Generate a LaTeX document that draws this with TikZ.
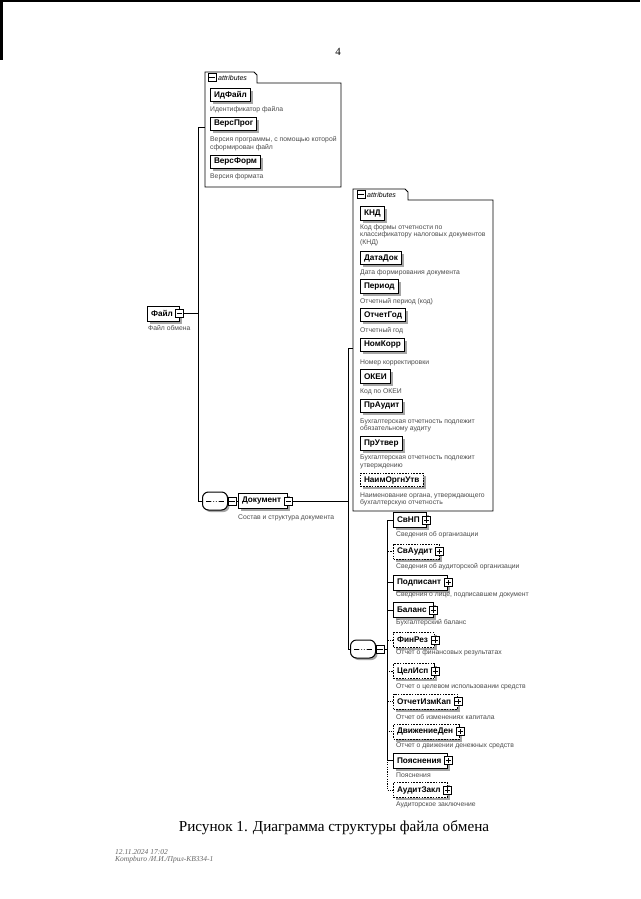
\documentclass[tikz,border=0pt]{standalone}
\usepackage{fontspec}
\setmainfont{Liberation Serif}
\newfontfamily\xsans{Liberation Sans}
\usetikzlibrary{shadows}
\begin{document}
\begin{tikzpicture}[x=1pt,y=-1pt,
  el/.style={draw, fill=white, font=\xsans\bfseries\fontsize{8.2}{9}\selectfont,
    inner xsep=3.5pt, inner ysep=0pt, minimum height=15pt, anchor=west, line width=1pt,
    drop shadow={shadow xshift=2.5pt, shadow yshift=-2.5pt, fill=black!35, opacity=1}},
  elb/.style={el, execute at end node={\kern3pt}},
  attb/.style={el, minimum height=13.5pt},
  opt/.style={dash pattern=on 1.6pt off 1.2pt},
  desc/.style={font=\xsans\fontsize{6.8}{7.4}\selectfont, text=black!70, anchor=west, inner sep=0pt, align=left},
  btn/.style={draw, fill=white, minimum size=8pt, inner sep=0pt, line width=0.8pt},
  minusb/.style={btn, path picture={\draw[line width=0.8pt] ([xshift=1.4pt]path picture bounding box.west) -- ([xshift=-1.4pt]path picture bounding box.east);}},
  plusb/.style={btn, path picture={\draw[line width=0.8pt] ([xshift=1.4pt]path picture bounding box.west) -- ([xshift=-1.4pt]path picture bounding box.east);
      \draw[line width=0.8pt] ([yshift=-1.4pt]path picture bounding box.north) -- ([yshift=1.4pt]path picture bounding box.south);}},
  seqn/.style={rectangle, rounded corners=6pt, draw, fill=white, line width=1pt, minimum width=25pt, minimum height=18pt,
    inner sep=0pt,
    drop shadow={shadow xshift=2pt, shadow yshift=-2pt, fill=black!35, opacity=1},
    path picture={\draw[line width=1pt] ([xshift=-9pt]path picture bounding box.center) -- ([xshift=9pt]path picture bounding box.center);
      \foreach \dx in {-2.7,0,2.7}{\fill ([xshift=\dx pt]path picture bounding box.center) circle (1.4pt);}}},
  conn/.style={line width=0.8pt},
  optconn/.style={line width=0.8pt, dash pattern=on 1.2pt off 1.2pt},
  tabt/.style={font=\xsans\itshape\fontsize{7}{8}\selectfont, anchor=west, inner sep=0pt}
]
\useasboundingbox (0,0) rectangle (640,899);
\fill[white] (0,0) rectangle (640,899);
\fill[black] (0,0) rectangle (640,2);
\fill[black] (0,0) rectangle (3,60);

% page number
\node[font=\fontsize{11}{12}\selectfont] (pnum) at (338,52) {4};

% ---- container 1
\draw[line width=0.8pt] (205,187) -- (205,72) -- (254,72) -- (257,75) -- (257,83) -- (341,83) -- (341,187) -- cycle;
\node[minusb] (t1b) at (212,77.5) {};
\node[tabt] (t1t) at (218,77.5) {attributes};
\coordinate (att1in) at (205,127);

\node[attb] (idf) at (210,95) {ИдФайл};
\node[desc] (idfd) at (210,110) {Идентификатор файла};
\node[attb] (vprog) at (210,124) {ВерсПрог};
\node[desc] (vprogd) at (210,143.5) {Версия программы, с помощью которой\\сформирован файл};
\node[attb] (vform) at (210,162) {ВерсФорм};
\node[desc] (vformd) at (210,177) {Версия формата};

% ---- root
\node[elb] (fail) at (147,313.5) {Файл};
\node[minusb] (failb) at (fail.east) {};
\node[desc] (faild) at (148,328) {Файл обмена};
\coordinate (j1) at (198,313.5);

\node[seqn] (seq1) at (215,501) {};
\node[minusb] (seq1b) at (232,501) {};
\node[elb] (doc) at (238,501) {Документ};
\node[minusb] (docb) at (doc.east) {};
\node[desc] (docd) at (238,518) {Состав и структура документа};

\draw[conn] (failb.east) -- (j1);
\draw[conn] (j1) |- (att1in);
\draw[conn] (j1) |- (seq1.west);
\draw[conn] (seq1.east) -- (seq1b.west);
\draw[conn] (seq1b.east) -- (doc.west);

% ---- container 2
\draw[line width=0.8pt] (353,511) -- (353,189) -- (405,189) -- (408,192) -- (408,200) -- (493,200) -- (493,511) -- cycle;
\node[minusb] (t2b) at (361,194.5) {};
\node[tabt] (t2t) at (367,194.5) {attributes};
\coordinate (att2in) at (353,348);

\node[attb] (knd) at (360,213.5) {КНД};
\node[desc] (kndd) at (360,235) {Код формы отчетности по\\классификатору налоговых документов\\(КНД)};
\node[attb] (datadok) at (360,258) {ДатаДок};
\node[desc] (datadokd) at (360,273) {Дата формирования документа};
\node[attb] (period) at (360,286.5) {Период};
\node[desc] (periodd) at (360,302) {Отчетный период (код)};
\node[attb] (otgod) at (360,315) {ОтчетГод};
\node[desc] (otgodd) at (360,331) {Отчетный год};
\node[attb] (nomk) at (360,345) {НомКорр};
\node[desc] (nomkd) at (360,363) {Номер корректировки};
\node[attb] (okei) at (360,376.5) {ОКЕИ};
\node[desc] (okeid) at (360,392) {Код по ОКЕИ};
\node[attb] (praud) at (360,406) {ПрАудит};
\node[desc] (praudd) at (360,425.5) {Бухгалтерская отчетность подлежит\\обязательному аудиту};
\node[attb] (prutv) at (360,443.5) {ПрУтвер};
\node[desc] (prutvd) at (360,462) {Бухгалтерская отчетность подлежит\\утверждению};
\node[attb, opt] (naim) at (360,480) {НаимОргнУтв};
\node[desc] (naimd) at (360,499.5) {Наименование органа, утверждающего\\бухгалтерскую отчетность};

\coordinate (j2) at (348,501);
\node[seqn] (seq2) at (363,649) {};
\node[minusb] (seq2b) at (380,649) {};
\coordinate (j3) at (387,649);

\draw[conn] (docb.east) -- (j2);
\draw[conn] (j2) |- (att2in);
\draw[conn] (j2) |- (seq2.west);
\draw[conn] (seq2.east) -- (seq2b.west);
\draw[conn] (seq2b.east) -- (j3);

% ---- children
\node[elb] (svnp) at (393,520) {СвНП};
\node[plusb] (svnpb) at (svnp.east) {};
\node[desc] (svnpd) at (396,535) {Сведения об организации};
\node[elb, opt] (svaud) at (393,551.5) {СвАудит};
\node[plusb] (svaudb) at (svaud.east) {};
\node[desc] (svaudd) at (396,567) {Сведения об аудиторской организации};
\node[elb] (podp) at (393,582.5) {Подписант};
\node[plusb] (podpb) at (podp.east) {};
\node[desc] (podpd) at (396,595) {Сведения о лице, подписавшем документ};
\node[elb] (bal) at (393,610) {Баланс};
\node[plusb] (balb) at (bal.east) {};
\node[desc] (bald) at (396,623) {Бухгалтерский баланс};
\node[elb, opt] (finrez) at (393,640) {ФинРез};
\node[plusb] (finrezb) at (finrez.east) {};
\node[desc] (finrezd) at (396,653) {Отчет о финансовых результатах};
\node[elb, opt] (celisp) at (393,671) {ЦелИсп};
\node[plusb] (celispb) at (celisp.east) {};
\node[desc] (celispd) at (396,687) {Отчет о целевом использовании средств};
\node[elb, opt] (otizm) at (393,701.5) {ОтчетИзмКап};
\node[plusb] (otizmb) at (otizm.east) {};
\node[desc] (otizmd) at (396,717) {Отчет об изменениях капитала};
\node[elb, opt] (dvizh) at (393,731.5) {ДвижениеДен};
\node[plusb] (dvizhb) at (dvizh.east) {};
\node[desc] (dvizhd) at (396,746) {Отчет о движении денежных средств};
\node[elb] (poyas) at (393,760.5) {Пояснения};
\node[plusb] (poyasb) at (poyas.east) {};
\node[desc] (poyasd) at (396,775) {Пояснения};
\node[elb, opt] (audz) at (393,790) {АудитЗакл};
\node[plusb] (audzb) at (audz.east) {};
\node[desc] (audzd) at (396,805) {Аудиторское заключение};

\draw[optconn] (j3) |- (audz.west);
\draw[optconn] (j3) |- (svaud.west);
\draw[optconn] (j3) |- (finrez.west);
\draw[optconn] (j3) |- (celisp.west);
\draw[optconn] (j3) |- (otizm.west);
\draw[optconn] (j3) |- (dvizh.west);
\draw[conn] (j3) |- (svnp.west);
\draw[conn] (j3) |- (podp.west);
\draw[conn] (j3) |- (bal.west);
\draw[conn] (j3) |- (poyas.west);

% ---- caption and footer
\node[font=\fontsize{15.2}{18}\selectfont] (cap) at (334,828) {Рисунок 1. Диаграмма структуры файла обмена};
\node[font=\itshape\fontsize{7.5}{9}\selectfont, text=black!60, anchor=west, inner sep=0pt] (f1) at (115,852) {12.11.2024 17:02};
\node[font=\itshape\fontsize{7.5}{9}\selectfont, text=black!60, anchor=west, inner sep=0pt] (f2) at (115,860) {Kompburo /И.И./Прил-КВ334-1};
\end{tikzpicture}
\end{document}
